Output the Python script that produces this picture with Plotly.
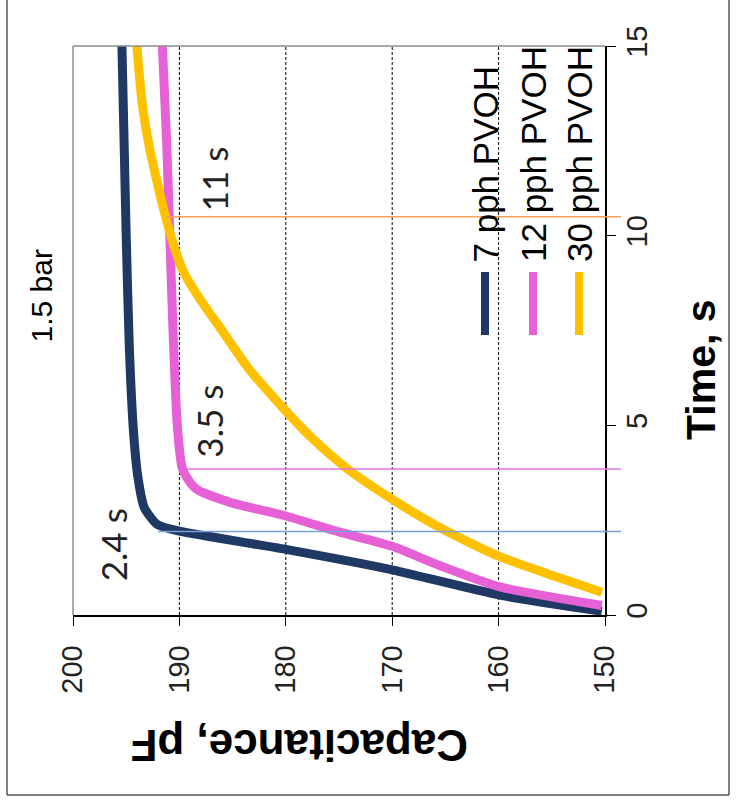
import plotly.graph_objects as go

# ---- data ----
series_names = ["7 pph PVOH", "12 pph PVOH", "30 pph PVOH"]
series_colors = ["#1f3864", "#e660d6", "#ffc000"]

time_7 = [0.1, 0.53, 1.19, 1.73, 2.21, 2.39, 2.83, 3.63, 4.78, 7.0, 10.0, 12.5, 15.0]
cap_7 = [150.3, 160, 170, 180, 190, 192.1, 193.3, 193.9, 194.3, 194.7, 195.0, 195.2, 195.4]

time_12 = [0.25, 0.75, 1.3, 1.81, 2.19, 2.61, 2.95, 3.32, 3.67, 3.89, 5.0, 7.5, 10.0, 12.5, 15.0]
cap_12 = [150.3, 160, 165.5, 170, 175, 180, 185, 188.4, 189.4, 189.75, 190.2, 190.6, 190.9, 191.2, 191.6]

time_30 = [0.6, 1.0, 1.55, 2.3, 3.05, 3.85, 4.65, 5.44, 6.5, 7.5, 8.3, 9.04, 9.8, 10.5, 11.3, 12.3, 13.5, 15.0]
cap_30 = [150.3, 154.5, 160, 165.5, 170, 174.2, 177.5, 180.2, 183.5, 186.0, 188.0, 189.6, 190.6, 191.3, 192.0, 192.8, 193.5, 194.0]

marker_times = [2.2, 3.85, 10.5]
marker_start_cap = [192.0, 189.3, 191.3]
marker_colors = ["#7ba0d6", "#e670dc", "#f2a25a"]
marker_labels = ["2.4 s", "3.5 s", "11 s"]
marker_label_cap = [196.3, 187.3, 186.8]
marker_label_time = [1.85, 5.1, 11.5]

cap_ticks = [150, 160, 170, 180, 190, 200]
cap_grid = [160, 170, 180, 190]
time_ticks = [0, 5, 10, 15]
cap_range = [200, 150]
time_range = [0, 15]

W, H = 736, 805
PX0, PX1 = 73, 605      # plot area horizontal pixels
PY0, PY1 = 46, 615      # plot area vertical pixels (top, bottom)

def px(x):
    return x / W

def py(y):
    return 1 - y / H

fig = go.Figure()
for t, c, name, col in zip([time_7, time_12, time_30], [cap_7, cap_12, cap_30],
                           series_names, series_colors):
    fig.add_trace(go.Scatter(x=c, y=t, mode="lines", name=name,
                             line=dict(color=col, width=9, shape="spline", smoothing=0.6),
                             showlegend=False, hoverinfo="skip"))

shapes = []
for g in cap_grid:
    shapes.append(dict(type="line", xref="x", yref="y domain", x0=g, x1=g, y0=0, y1=1,
                       line=dict(color="black", width=1, dash="3px,2px"), layer="below"))
shapes.append(dict(type="line", xref="x domain", yref="y domain", x0=0, x1=0, y0=0, y1=1,
                   line=dict(color="#8c8c8c", width=1.5)))
shapes.append(dict(type="line", xref="x domain", yref="y domain", x0=0, x1=1, y0=1, y1=1,
                   line=dict(color="#8c8c8c", width=1.5)))
span = cap_range[0] - cap_range[1]
for tm, c0, col in zip(marker_times, marker_start_cap, marker_colors):
    shapes.append(dict(type="line", xref="x domain", yref="y",
                       x0=(cap_range[0] - c0) / span, x1=1.03, y0=tm, y1=tm,
                       line=dict(color=col, width=1.5)))
shapes.append(dict(type="line", xref="paper", yref="paper", x0=px(7), x1=px(7), y0=py(0), y1=py(795),
                   line=dict(color="#555555", width=1.5)))
shapes.append(dict(type="line", xref="paper", yref="paper", x0=px(7), x1=px(729), y0=py(795), y1=py(795),
                   line=dict(color="#555555", width=1.5)))
shapes.append(dict(type="line", xref="paper", yref="paper", x0=px(729), x1=px(729), y0=py(0), y1=py(795),
                   line=dict(color="#555555", width=1.5)))
legend_x = [485, 533, 579]
for lx, col in zip(legend_x, series_colors):
    shapes.append(dict(type="line", xref="paper", yref="paper", x0=px(lx), x1=px(lx),
                       y0=py(272), y1=py(335), line=dict(color=col, width=8)))

annotations = []
for lab, c, t in zip(marker_labels, marker_label_cap, marker_label_time):
    annotations.append(dict(text=lab, x=c, y=t, xref="x", yref="y", showarrow=False,
                            textangle=-90, font=dict(family="Lato", size=35, color="#222222")))
for lx, name in zip(legend_x, series_names):
    annotations.append(dict(text=name, x=px(lx), y=py(264), xref="paper", yref="paper",
                            xanchor="center", yanchor="bottom", showarrow=False, textangle=-90,
                            font=dict(family="Liberation Sans", size=35, color="black")))
annotations.append(dict(text="<b>Capacitance, pF</b>", x=px(300), y=py(772), xref="paper", yref="paper",
                        showarrow=False, textangle=180,
                        font=dict(family="Liberation Sans", size=44, color="black")))
annotations.append(dict(text="<b>Time, s</b>", x=px(726), y=py(370), xref="paper", yref="paper",
                        showarrow=False, textangle=-90,
                        font=dict(family="Liberation Sans", size=41, color="black")))
annotations.append(dict(text="1.5 bar", x=px(23), y=py(296), xref="paper", yref="paper",
                        showarrow=False, textangle=-90,
                        font=dict(family="Liberation Sans", size=30, color="black")))

fig.update_layout(
    width=W, height=H, margin=dict(l=0, r=0, t=0, b=0, pad=0, autoexpand=False),
    paper_bgcolor="white", plot_bgcolor="white", showlegend=False,
    shapes=shapes, annotations=annotations,
    xaxis=dict(domain=[px(PX0), px(PX1)], range=cap_range, tickvals=cap_ticks, automargin=False,
               showgrid=False, zeroline=False, showline=True, linecolor="black", linewidth=1.5,
               ticks="outside", ticklen=9, tickcolor="black", tickangle=-90,
               ticklabelstandoff=8,
               tickfont=dict(family="Liberation Sans", size=29, color="#222222")),
    yaxis=dict(domain=[py(PY1), py(PY0)], range=time_range, tickvals=time_ticks, side="right",
               automargin=False,
               showgrid=False, zeroline=False, showline=True, linecolor="black", linewidth=1.5,
               ticks="outside", ticklen=9, tickcolor="black", tickangle=-90,
               ticklabelstandoff=-4,
               tickfont=dict(family="Liberation Sans", size=29, color="#222222")),
)

fig.write_html("out.html")
